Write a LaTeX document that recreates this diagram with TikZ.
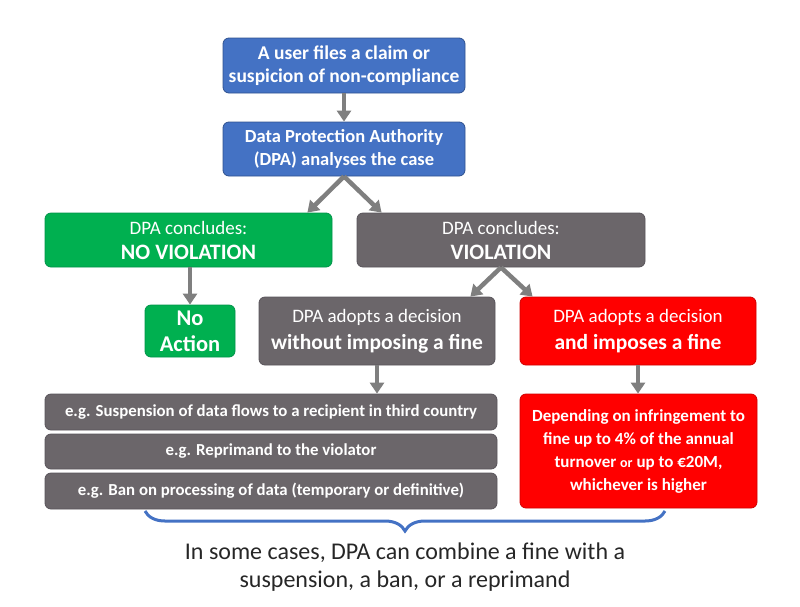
\documentclass[tikz,border=0pt]{standalone}
\usepackage{fontspec}
\setmainfont{Carlito}
\usetikzlibrary{arrows.meta,calc,decorations.pathreplacing}
\definecolor{bblue}{HTML}{4472C4}
\definecolor{bblueb}{HTML}{2F528F}
\definecolor{bgreen}{HTML}{00B050}
\definecolor{bgreenb}{HTML}{00934A}
\definecolor{bgrey}{HTML}{6B666A}
\definecolor{bgreyb}{HTML}{58545A}
\definecolor{bred}{HTML}{FF0000}
\definecolor{bredb}{HTML}{D00000}
\definecolor{arrgrey}{HTML}{7F7F7F}
\tikzset{
  box/.style={rectangle, rounded corners=6pt, inner sep=0pt, align=center, text=white, line width=0.8pt},
  bluebox/.style={box, fill=bblue, draw=bblueb},
  greenbox/.style={box, fill=bgreen, draw=bgreenb},
  greybox/.style={box, fill=bgrey, draw=bgreyb},
  redbox/.style={box, fill=bred, draw=bredb},
  flow/.style={draw=arrgrey, line width=4.5pt, -{Triangle[length=11pt,width=14pt]}, shorten >=0pt},
}
\newcommand{\fsz}[2]{\fontsize{#1}{#2}\selectfont}
\begin{document}
\begin{tikzpicture}[x=1pt,y=-1pt]
\useasboundingbox (0,0) rectangle (800,606);
\node[bluebox, minimum width=242pt, minimum height=55pt, font=\fsz{19.5}{23}\bfseries] (user) at (344,65.5) {A user files a claim or\\suspicion of non-compliance};
\node[bluebox, minimum width=242pt, minimum height=54pt, font=\fsz{18.5}{23}\bfseries] (dpa) at (344,149) {Data Protection Authority\\(DPA) analyses the case};
\node[greenbox, minimum width=287pt, minimum height=54pt, font=\fsz{19}{25}] (noviol) at (188.5,240) {DPA concludes:\\\fsz{22}{25}\bfseries NO VIOLATION};
\node[greybox, minimum width=288pt, minimum height=54pt, font=\fsz{19}{25}] (viol) at (501,240) {DPA concludes:\\\fsz{22}{25}\bfseries VIOLATION};
\node[greenbox, minimum width=90pt, minimum height=52pt, font=\fsz{22.5}{26}\bfseries] (noact) at (190,331) {No\\Action};
\node[greybox, minimum width=236pt, minimum height=68pt, font=\fsz{19}{27}] (dec1) at (377,331) {DPA adopts a decision\\\fsz{21.5}{27}\bfseries without imposing a fine};
\node[redbox, minimum width=236pt, minimum height=68pt, font=\fsz{19}{27}] (dec2) at (638,331) {DPA adopts a decision\\\fsz{21.5}{27}\bfseries and imposes a fine};
\node[greybox, minimum width=452pt, minimum height=36pt, font=\fsz{16.8}{19}\bfseries] (ex1) at (271,412) {e.g. Suspension of data flows to a recipient in third country};
\node[greybox, minimum width=452pt, minimum height=35pt, font=\fsz{16.8}{19}\bfseries] (ex2) at (271,451.5) {e.g. Reprimand to the violator};
\node[greybox, minimum width=452pt, minimum height=36pt, font=\fsz{16.8}{19}\bfseries] (ex3) at (271,491) {e.g. Ban on processing of data (temporary or definitive)};
\node[redbox, minimum width=237pt, minimum height=114pt, font=\fsz{17}{23}\bfseries] (fine) at (638.5,451) {Depending on infringement to\\fine up to 4\% of the annual\\turnover {\fsz{14}{23}or} up to €20M,\\whichever is higher};
\node[align=center, font=\fsz{24}{27.5}, text=black!85] (note) at (405,567) {In some cases, DPA can combine a fine with a\\suspension, a ban, or a reprimand};
% connectors
\draw[flow] (user.south) -- (dpa.north);
\draw[flow] (dpa.south) -- ([xshift=-25pt]noviol.north east);
\draw[flow] (dpa.south) -- ([xshift=25pt]viol.north west);
\draw[flow] (noact.north |- noviol.south) -- (noact.north);
\draw[flow] (viol.south) -- ([xshift=-25pt]dec1.north east);
\draw[flow] (viol.south) -- ([xshift=13pt]dec2.north west);
\draw[flow] (dec1.south) -- (dec1.south |- ex1.north);
\draw[flow] (dec2.south) -- (dec2.south |- fine.north);
% brace
\coordinate (bl) at (145,511);
\coordinate (br) at (665,511);
\draw[bblue, line width=3pt, decorate, decoration={brace, mirror, amplitude=20pt, aspect=0.5}] (bl) -- (br);
\end{tikzpicture}
\end{document}
